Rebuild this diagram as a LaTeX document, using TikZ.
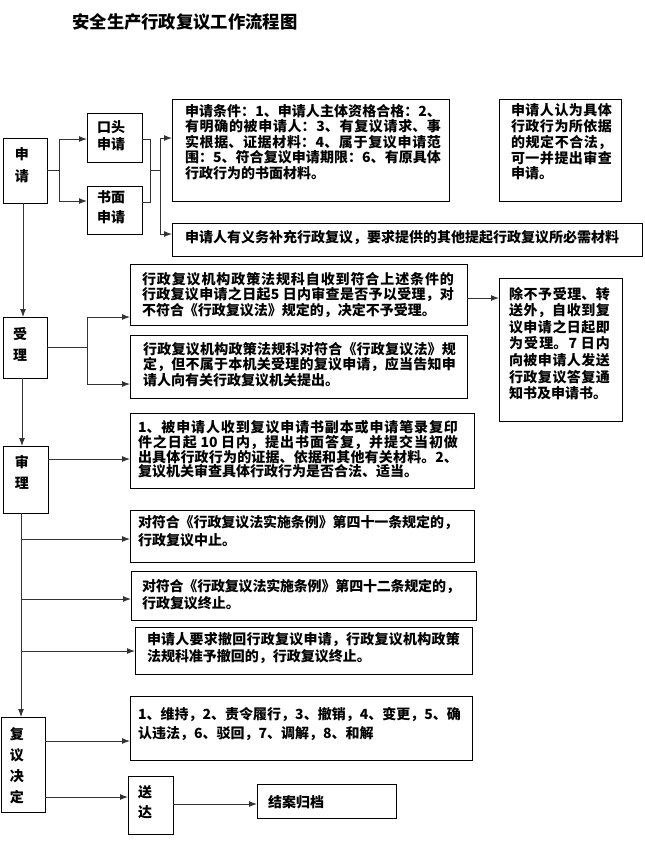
\documentclass[tikz,border=0pt]{standalone}
\usepackage{fontspec}
\setmainfont{Noto Sans CJK SC}
\usetikzlibrary{arrows.meta,calc}
\XeTeXlinebreaklocale "zh"
\XeTeXlinebreakskip=0pt plus 3pt minus 0.4pt
\newdimen\px \px=0.75pt
\newcommand\bxc[7]{\parbox[c][#2\px][t]{#1\px}{\vspace*{#3\px}\hspace*{#4\px}\parbox[t]{#5\px}{\fontsize{10.5pt}{#6\px}\selectfont\bfseries #7}}}
\tikzset{
  bx/.style={draw=black, line width=0.75pt, inner sep=0pt, outer sep=0pt, anchor=north west},
  ln/.style={draw=black!80, line width=0.75pt},
  arr/.style={ln, -{Latex[length=6pt,width=4.5pt]}},
}
\begin{document}
\begin{tikzpicture}[x=0.75pt,y=-0.75pt]
\useasboundingbox (0,0) rectangle (644,851);
\fill[white] (0,0) rectangle (644,851);
\node[font=\fontsize{13pt}{15pt}\selectfont\bfseries] (title) at (185,22) {安全生产行政复议工作流程图};
% boxes
\node[bx] (sq) at (3,138) {\bxc{44}{65}{10}{12}{20}{22}{申\\请}};
\node[bx] (kt) at (87,113) {\bxc{55}{49}{8}{10}{35}{17}{口头\\申请}};
\node[bx] (sm) at (87,186) {\bxc{55}{48}{5}{10}{35}{20}{书面\\申请}};
\node[bx] (cond) at (172,99) {\bxc{277}{102}{5}{13}{256}{15.5}{申请条件：1、申请人主体资格合格：2、\linebreak 有明确的被申请人：3、有复议请求、事\linebreak 实根据、证据材料：4、属于复议申请范\linebreak 围：5、符合复议申请期限：6、有原具体\linebreak 行政行为的书面材料。}};
\node[bx] (rt) at (499,99) {\bxc{122}{102}{5}{12}{101}{15.75}{申请人认为具体\linebreak 行政行为所依据\linebreak 的规定不合法，\linebreak 可一并提出审查\linebreak 申请。}};
\node[bx] (sup) at (172,223) {\bxc{470}{33}{7}{13}{450}{15}{申请人有义务补充行政复议，要求提供的其他提起行政复议所必需材料}};
\node[bx] (sl) at (3,317) {\bxc{44}{61}{10}{10}{20}{21}{受\\理}};
\node[bx] (a1) at (130,264) {\bxc{337}{61}{8}{12}{312}{15.5}{行政复议机构政策法规科自收到符合上述条件的\linebreak 行政复议申请之日起5 日内审查是否予以受理，对\linebreak 不符合《行政复议法》规定的，决定不予受理。}};
\node[bx] (a2) at (130,335) {\bxc{337}{63}{7}{13}{313}{15.5}{行政复议机构政策法规科对符合《行政复议法》规\linebreak 定，但不属于本机关受理的复议申请，应当告知申\linebreak 请人向有关行政复议机关提出。}};
\node[bx] (cb) at (499,278) {\bxc{123}{143}{9}{10}{101}{16.6}{除不予受理、转\linebreak 送外，自收到复\linebreak 议申请之日起即\linebreak 为受理。7 日内\linebreak 向被申请人发送\linebreak 行政复议答复通\linebreak 知书及申请书。}};
\node[bx] (sh) at (3,446) {\bxc{45}{67}{9}{12}{20}{21}{审\\理}};
\node[bx] (b) at (130,413) {\bxc{344}{75}{7}{8}{320}{13.7}{1、被申请人收到复议申请书副本或申请笔录复印\linebreak 件之日起 10 日内，提出书面答复，并提交当初做\linebreak 出具体行政行为的证据、依据和其他有关材料。2、\linebreak 复议机关审查具体行政行为是否合法、适当。}};
\node[bx] (c1) at (130,510) {\bxc{344}{52}{5}{8}{320}{18}{对符合《行政复议法实施条例》第四十一条规定的，\linebreak 行政复议中止。}};
\node[bx] (c2) at (131,571) {\bxc{345}{49}{8}{11}{318}{17}{对符合《行政复议法实施条例》第四十二条规定的，\linebreak 行政复议终止。}};
\node[bx] (c3) at (135,627) {\bxc{337}{47}{5}{12}{313}{17}{申请人要求撤回行政复议申请，行政复议机构政策\linebreak 法规科准予撤回的，行政复议终止。}};
\node[bx] (d) at (1,717) {\bxc{44}{95}{11}{9}{20}{21}{复\\议\\决\\定}};
\node[bx] (e) at (130,696) {\bxc{342}{64}{11}{8}{323}{19}{1、维持，2、责令履行，3、撤销，4、变更，5、确\linebreak 认违法，6、驳回，7、调解，8、和解}};
\node[bx] (sd) at (128,776) {\bxc{45}{58}{10}{10}{20}{20}{送\\达}};
\node[bx] (ja) at (257,784) {\bxc{139}{34}{11}{11}{110}{15}{结案归档}};
% junction coordinates
\coordinate (j1) at (59,139);
\coordinate (j1b) at (59,201);
\coordinate (k1) at (150,139);
\coordinate (k2) at (150,202);
\coordinate (mm) at (150,170);
\coordinate (m1) at (160,138);
\coordinate (m2) at (160,234);
\coordinate (v1) at (23,0);
\coordinate (n1) at (87,317);
\coordinate (n2) at (87,384);
\coordinate (p1) at (0,298);
\coordinate (v2) at (22,0);
\coordinate (q1) at (0,459);
\coordinate (v3) at (21,0);
\coordinate (r1) at (21,539);
\coordinate (r2) at (21,599);
\coordinate (r3) at (21,651);
\coordinate (s1) at (0,741);
\coordinate (s2) at (0,797);
\coordinate (s3) at (0,804);
% connectors
\draw[ln] (sq.east) -- (sq.east -| j1);
\draw[ln] (j1) -- (j1b);
\draw[arr] (j1) -- (j1 -| kt.west);
\draw[arr] (j1b) -- (j1b -| sm.west);
\draw[ln] (k1 -| kt.east) -- (k1) -- (k2) -- (k2 -| sm.east);
\draw[ln] (mm) -- (mm -| m1);
\draw[ln] (m1) -- (m2);
\draw[arr] (m1) -- (m1 -| cond.west);
\draw[arr] (m2) -- (m2 -| sup.west);
\draw[arr] (sq.south -| v1) -- (sl.north -| v1);
\draw[ln] (sl.east) -- (sl.east -| n1);
\draw[ln] (n1) -- (n2);
\draw[arr] (n1) -- (n1 -| a1.west);
\draw[arr] (n2) -- (n2 -| a2.west);
\draw[arr] (a1.east |- p1) -- (cb.west |- p1);
\draw[arr] (sl.south -| v2) -- (sh.north -| v2);
\draw[arr] (sh.east |- q1) -- (b.west |- q1);
\draw[arr] (sh.south -| v3) -- (d.north -| v3);
\draw[arr] (r1) -- (r1 -| c1.west);
\draw[arr] (r2) -- (r2 -| c2.west);
\draw[arr] (r3) -- (r3 -| c3.west);
\draw[arr] (d.east |- s1) -- (e.west |- s1);
\draw[arr] (d.east |- s2) -- (sd.west |- s2);
\draw[arr] (sd.east |- s3) -- (ja.west |- s3);
\end{tikzpicture}
\end{document}
